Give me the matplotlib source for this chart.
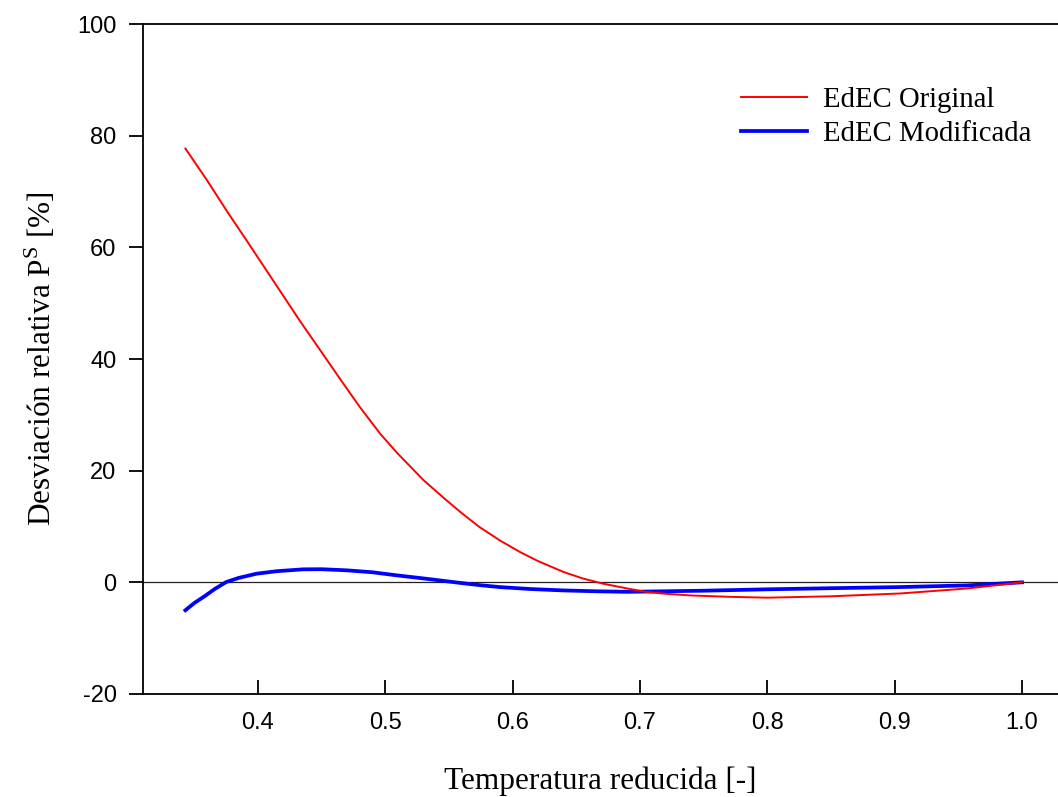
import matplotlib
matplotlib.use("Agg")
import matplotlib.pyplot as plt

# Reduced temperature vs relative deviation of saturation pressure [%]
tr_orig = [0.343, 0.36, 0.377, 0.39, 0.4115, 0.433, 0.45, 0.467, 0.48, 0.496,
           0.51, 0.53, 0.548, 0.56, 0.574, 0.59, 0.606, 0.62, 0.640, 0.655,
           0.671, 0.69, 0.705, 0.72, 0.740, 0.771, 0.800, 0.850, 0.904,
           0.957, 1.0]
dev_orig = [77.7, 72.0, 66.0, 61.6, 54.2, 46.8, 41.2, 35.6, 31.4, 26.6,
            23.0, 18.3, 14.7, 12.4, 9.9, 7.5, 5.4, 3.8, 1.85, 0.7,
            -0.24, -1.1, -1.73, -2.05, -2.35, -2.6, -2.75, -2.5, -2.0,
            -1.1, 0.0]

tr_mod = [0.343, 0.35, 0.358, 0.366, 0.375, 0.385, 0.399, 0.415, 0.4356,
          0.45, 0.4697, 0.49, 0.509, 0.53, 0.5587, 0.574, 0.59, 0.614,
          0.640, 0.665, 0.690, 0.720, 0.750, 0.800, 0.850, 0.904, 0.957, 1.0]
dev_mod = [-5.0, -3.7, -2.5, -1.2, 0.05, 0.8, 1.55, 2.0, 2.33,
           2.35, 2.15, 1.8, 1.25, 0.7, -0.1, -0.5, -0.85, -1.2,
           -1.45, -1.6, -1.7, -1.6, -1.5, -1.25, -1.05, -0.85, -0.55, 0.0]

SERIF = "Liberation Serif"
SANS = "Liberation Sans"

plt.rcParams["axes.unicode_minus"] = False
plt.rcParams["mathtext.fontset"] = "custom"
plt.rcParams["mathtext.rm"] = SERIF

fig = plt.figure(figsize=(10.58, 7.97), dpi=100)
ax = fig.add_axes([143 / 1058, 1 - 694 / 797, 1 - 143 / 1058, (694 - 24) / 797])

ax.axhline(0, color="#222222", lw=0.9, zorder=1)
ax.plot(tr_orig, dev_orig, color="#ff0000", lw=1.4, label="EdEC Original", zorder=3)
ax.plot(tr_mod, dev_mod, color="#0000ff", lw=2.7, label="EdEC Modificada", zorder=2)

ax.set_xlim(0.3097, 1.0283)
ax.set_ylim(-20, 100)
ax.set_xticks([0.4, 0.5, 0.6, 0.7, 0.8, 0.9, 1.0])
ax.set_xticklabels(["0.4", "0.5", "0.6", "0.7", "0.8", "0.9", "1.0"])
ax.set_yticks([-20, 0, 20, 40, 60, 80, 100])
ax.set_yticklabels(["-20", "0", "20", "40", "60", "80", "100"])

for s in ("left", "bottom", "top"):
    ax.spines[s].set_linewidth(1.3)
ax.spines["right"].set_visible(False)

ax.tick_params(axis="y", direction="out", length=10, width=1.3, pad=9,
               labelsize=17)
ax.tick_params(axis="x", direction="in", length=10, width=1.3, pad=13,
               labelsize=17)
for lab in ax.get_xticklabels() + ax.get_yticklabels():
    lab.set_family(SANS)

ax.set_xlabel("Temperatura reducida [-]", family=SERIF, fontsize=22.5, labelpad=23)
ax.set_ylabel(r"Desviación relativa P$^{\mathrm{S}}$ [%]", family=SERIF,
              fontsize=22.5, labelpad=14)

leg = ax.legend(loc="upper left", bbox_to_anchor=(0.638, 0.928), frameon=False,
                prop={"family": SERIF, "size": 20.7}, handlelength=2.3,
                handletextpad=0.55, labelspacing=0.3, borderpad=0)

fig.savefig("out.png", dpi=100, facecolor="white")
